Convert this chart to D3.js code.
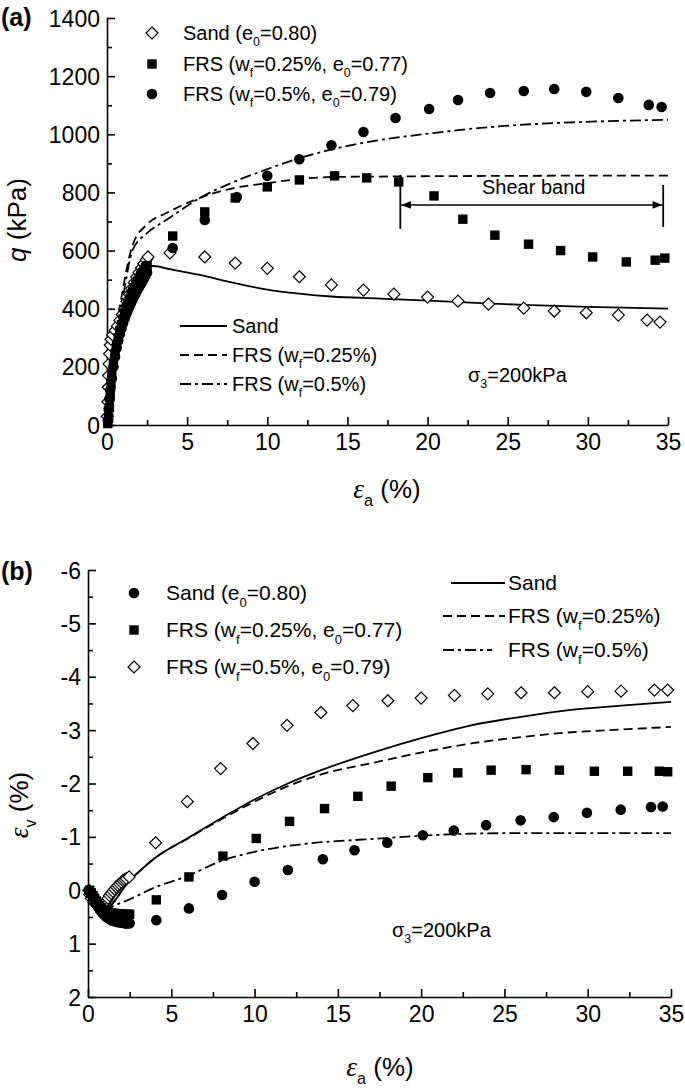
<!DOCTYPE html>
<html>
<head>
<meta charset="utf-8">
<script src="https://cdn.jsdelivr.net/npm/d3@7"></script>
<style>
  body { margin: 0; background: #fff; }
  svg { display: block; font-family: "Liberation Sans", Arial, sans-serif; }
</style>
</head>
<body>
<div id="chart"></div>
<script>
// ---- data ----
// (a) deviator stress q (kPa) vs axial strain (%)
const sandQ = [[0.02,30],[0.05,80],[0.08,130],[0.1,170],[0.13,210],[0.16,245],[0.2,275],[0.25,295],[0.35,310],[0.5,325],[0.65,340],[0.8,360],[0.95,380],[1.1,400],[1.25,425],[1.4,450],[1.55,470],[1.7,490],[1.85,510],[2.0,525],[2.15,540],[2.3,555],[2.45,568],[2.56,578],[3.93,592],[6.1,578],[8.0,557],[10.0,539],[12.0,510],[14.0,482],[16.0,464],[17.9,450],[20.0,440],[21.9,426],[23.8,416],[26.0,402],[27.9,392],[29.9,386],[31.9,378],[33.7,361],[34.5,354]]
const frs025Q = [[0.05,5],[0.1,25],[0.15,60],[0.2,100],[0.25,140],[0.3,170],[0.4,210],[0.5,245],[0.6,275],[0.7,300],[0.8,325],[0.9,345],[1.0,365],[1.1,385],[1.2,402],[1.3,418],[1.4,433],[1.5,447],[1.6,460],[1.7,472],[1.8,484],[1.9,495],[2.0,505],[2.1,515],[2.2,524],[2.3,533],[2.4,541],[2.5,548],[4.1,650],[6.1,733],[8.0,781],[10.0,819],[12.0,843],[14.2,857],[16.2,850],[18.2,836],[20.4,788],[22.2,708],[24.2,653],[26.3,622],[28.3,600],[30.3,578],[32.4,561],[34.2,567],[34.8,574]]
const frs05Q = [[0.05,15],[0.1,55],[0.15,90],[0.2,120],[0.3,160],[0.4,200],[0.5,235],[0.6,265],[0.7,290],[0.8,312],[0.9,332],[1.0,350],[1.1,366],[1.2,381],[1.3,395],[1.4,408],[1.5,420],[1.6,432],[1.7,443],[1.8,454],[1.9,464],[2.0,474],[2.1,484],[2.2,494],[2.3,504],[2.4,514],[2.5,525],[4.1,609],[6.1,705],[8.1,784],[10.0,857],[12.0,914],[14.0,962],[16.0,1008],[18.0,1056],[20.1,1087],[21.9,1118],[23.9,1142],[26.0,1149],[27.9,1156],[29.9,1146],[31.9,1125],[33.8,1101],[34.6,1094]]
const sandQLine = [[0,0],[0.3,150],[0.6,280],[1.0,390],[1.5,470],[2.0,520],[2.5,543],[2.9,547],[4,535],[5.8,516],[7.9,489],[10,466],[12,452],[14,442],[17,435],[20,428],[23,420],[26,413],[30,406],[35,400]]
const frs025QLine = [[0,0],[0.3,180],[0.6,330],[1.0,470],[1.6,619],[2.5,690],[3.7,729],[5.8,781],[7.9,815],[10,832],[12,846],[14,853],[18,855],[25,857],[35,858]]
const frs05QLine = [[0,0],[0.3,170],[0.6,310],[1.0,440],[1.6,602],[2.5,660],[3.7,705],[5.8,781],[7.9,836],[10,880],[12,918],[15,960],[17,980],[20,1002],[23.3,1022],[26,1033],[29.5,1042],[35,1050]]
const shearBand = [18.3, 34.7, 757]

// (b) volumetric strain (%) vs axial strain (%)
const sandV = [[0.05,0.0],[0.1,0.02],[0.2,0.08],[0.3,0.14],[0.4,0.2],[0.5,0.26],[0.6,0.31],[0.7,0.36],[0.8,0.4],[0.9,0.44],[1.0,0.47],[1.1,0.5],[1.2,0.52],[1.3,0.54],[1.4,0.56],[1.5,0.57],[1.6,0.58],[1.7,0.59],[1.8,0.6],[1.9,0.6],[2.0,0.61],[2.1,0.61],[2.2,0.62],[2.3,0.62],[2.4,0.62],[2.5,0.62],[4.1,0.56],[6.06,0.34],[8.05,0.09],[10.0,-0.16],[12.0,-0.38],[14.1,-0.58],[16.0,-0.75],[17.97,-0.89],[20.1,-1.03],[21.96,-1.12],[23.9,-1.22],[25.97,-1.31],[27.96,-1.37],[29.95,-1.45],[31.98,-1.51],[33.8,-1.56],[34.5,-1.57]]
const frs025V = [[0.1,0.0],[0.2,0.05],[0.3,0.1],[0.4,0.15],[0.5,0.2],[0.6,0.25],[0.7,0.29],[0.8,0.33],[0.9,0.36],[1.0,0.38],[1.2,0.4],[1.4,0.42],[1.6,0.43],[1.8,0.44],[2.0,0.44],[2.2,0.45],[2.4,0.45],[2.5,0.45],[4.1,0.18],[6.06,-0.25],[8.1,-0.64],[10.1,-0.97],[12.1,-1.29],[14.2,-1.53],[16.2,-1.76],[18.2,-1.95],[20.4,-2.11],[22.2,-2.2],[24.2,-2.25],[26.3,-2.26],[28.3,-2.25],[30.4,-2.23],[32.4,-2.23],[34.3,-2.23],[34.8,-2.22]]
const frs05V = [[0.05,0.0],[0.1,0.08],[0.2,0.15],[0.35,0.22],[0.5,0.27],[0.7,0.3],[0.85,0.28],[1.0,0.25],[1.1,0.2],[1.2,0.15],[1.3,0.1],[1.4,0.06],[1.5,0.02],[1.6,-0.02],[1.7,-0.06],[1.8,-0.09],[1.9,-0.12],[2.0,-0.15],[2.1,-0.18],[2.2,-0.2],[2.3,-0.22],[2.47,-0.25],[4.06,-0.89],[5.96,-1.66],[7.96,-2.28],[9.9,-2.75],[11.95,-3.09],[13.98,-3.33],[15.9,-3.46],[18.0,-3.55],[20.0,-3.6],[22.0,-3.65],[24.0,-3.68],[26.0,-3.7],[28.0,-3.7],[30.0,-3.72],[32.0,-3.73],[34.0,-3.75],[34.8,-3.75]]
const sandVLine = [[0,0],[0.5,0.18],[1.0,0.3],[1.3,0.3],[1.6,0.2],[2,0.02],[2.5,-0.18],[3,-0.33],[4,-0.6],[6,-0.98],[8,-1.35],[10,-1.7],[12,-2.0],[14,-2.25],[17,-2.57],[20,-2.85],[23,-3.09],[26,-3.25],[29,-3.38],[32,-3.46],[35,-3.53]]
const frs025VLine = [[0,0],[0.5,0.18],[1.0,0.3],[1.3,0.3],[1.6,0.2],[2,0.02],[2.5,-0.18],[3,-0.33],[4,-0.6],[6,-0.97],[8,-1.33],[10,-1.66],[12,-1.95],[14,-2.17],[17,-2.38],[20,-2.58],[23,-2.75],[26,-2.87],[29,-2.96],[32,-3.01],[35,-3.06]]
const frs05VLine = [[0,0],[0.5,0.18],[1.0,0.3],[1.3,0.33],[1.5,0.3],[2.5,0.17],[4,-0.05],[6,-0.27],[8,-0.55],[10,-0.72],[12,-0.83],[14,-0.9],[16,-0.94],[18,-0.98],[20,-1.02],[23,-1.06],[26,-1.07],[30,-1.07],[35,-1.07]]

const xTicks = [0, 5, 10, 15, 20, 25, 30, 35]
const xMinor = [2.5, 7.5, 12.5, 17.5, 22.5, 27.5, 32.5]
const qTicks = [0, 200, 400, 600, 800, 1000, 1200, 1400]
const qMinor = [100, 300, 500, 700, 900, 1100, 1300]
const vTicks = [-6, -5, -4, -3, -2, -1, 0, 1, 2]
const vMinor = [-5.5, -4.5, -3.5, -2.5, -1.5, -0.5, 0.5, 1.5]

const svg = d3.select('#chart').append('svg').attr('width', 685).attr('height', 1089)

// scales
const aX = d3.scaleLinear().domain([0, 35]).range([107, 668])
const aY = d3.scaleLinear().domain([0, 1400]).range([425, 18])
const bX = d3.scaleLinear().domain([0, 35]).range([88, 671])
const bY = d3.scaleLinear().domain([-6, 2]).range([570, 997])

// text with subscripts: parts = [[text, 'sub'|'it'|'eps'|'']]
function rich (sel, x, y, parts, size, anchor, rotate) {
  const t = sel.append('text').attr('font-size', size).attr('text-anchor', anchor || 'start')
  if (rotate) t.attr('transform', 'translate(' + x + ',' + y + ') rotate(-90)')
  else t.attr('x', x).attr('y', y)
  let shift = 0
  parts.forEach(function (p) {
    const s = t.append('tspan').text(p[0])
    const want = p[1] === 'sub' ? size * 0.32 : 0
    if (want !== shift) { s.attr('dy', want - shift); shift = want }
    if (p[1] === 'sub') s.attr('font-size', size * 0.62)
    if (p[1] === 'it') s.attr('font-style', 'italic')
    if (p[1] === 'eps') s.attr('font-style', 'italic').attr('font-family', '"Liberation Serif", serif').attr('font-size', size * 1.05)
  })
  return t
}

function axes (x, y, yMaj, yMin, fmt) {
  const g = svg.append('g')
  const y0 = d3.max(y.range())
  const x0 = x.range()[0]
  const bx = g.append('g').attr('transform', 'translate(0,' + y0 + ')')
    .call(d3.axisBottom(x).tickValues(xTicks).tickSizeInner(-8).tickSizeOuter(0).tickPadding(8).tickFormat(d3.format('d')))
  g.append('g').attr('transform', 'translate(0,' + y0 + ')')
    .call(d3.axisBottom(x).tickValues(xMinor).tickSizeInner(-5).tickSizeOuter(0).tickFormat(''))
    .select('.domain').remove()
  const ly = g.append('g').attr('transform', 'translate(' + x0 + ',0)')
    .call(d3.axisLeft(y).tickValues(yMaj).tickSizeInner(-8).tickSizeOuter(0).tickPadding(7).tickFormat(fmt))
  g.append('g').attr('transform', 'translate(' + x0 + ',0)')
    .call(d3.axisLeft(y).tickValues(yMin).tickSizeInner(-5).tickSizeOuter(0).tickFormat(''))
    .select('.domain').remove()
  g.selectAll('.domain, .tick line').attr('stroke', '#000').attr('stroke-width', 1.6)
  g.selectAll('.tick text').attr('font-size', 23).attr('font-family', '"Liberation Sans", Arial, sans-serif').attr('fill', '#000')
  bx.selectAll('.tick text').attr('dy', '0.72em')
  ly.selectAll('.tick text').attr('dy', '0.35em')
}

function curve (data, x, y, dash) {
  svg.append('path').datum(data)
    .attr('d', d3.line().x(d => x(d[0])).y(d => y(d[1])).curve(d3.curveMonotoneX))
    .attr('fill', 'none').attr('stroke', '#000').attr('stroke-width', 1.8)
    .attr('stroke-dasharray', dash)
}

function marks (data, x, y, kind) {
  const g = svg.append('g')
  const sel = g.selectAll('.m').data(data).enter()
  if (kind === 'circle') {
    sel.append('circle').attr('cx', d => x(d[0])).attr('cy', d => y(d[1])).attr('r', 5.3).attr('fill', '#000')
  } else if (kind === 'square') {
    sel.append('rect').attr('x', d => x(d[0]) - 4.7).attr('y', d => y(d[1]) - 4.7)
      .attr('width', 9.4).attr('height', 9.4).attr('fill', '#000')
  } else {
    sel.append('path').attr('d', 'M0,-6L6,0L0,6L-6,0Z')
      .attr('transform', d => 'translate(' + x(d[0]) + ',' + y(d[1]) + ')')
      .attr('fill', '#fff').attr('stroke', '#000').attr('stroke-width', 1.2)
  }
}

function legendMark (cx, cy, kind) {
  if (kind === 'circle') svg.append('circle').attr('cx', cx).attr('cy', cy).attr('r', 5.3).attr('fill', '#000')
  else if (kind === 'square') svg.append('rect').attr('x', cx - 4.7).attr('y', cy - 4.7).attr('width', 9.4).attr('height', 9.4).attr('fill', '#000')
  else svg.append('path').attr('d', 'M0,-6L6,0L0,6L-6,0Z').attr('transform', 'translate(' + cx + ',' + cy + ')')
    .attr('fill', '#fff').attr('stroke', '#000').attr('stroke-width', 1.2)
}

function legendLine (x1, x2, cy, dash) {
  svg.append('line').attr('x1', x1).attr('x2', x2).attr('y1', cy).attr('y2', cy)
    .attr('stroke', '#000').attr('stroke-width', 1.8).attr('stroke-dasharray', dash)
}

const DASH = '9,5'
const DASHDOT = '11,4,3,4'

// ---------- panel (a) ----------
axes(aX, aY, qTicks, qMinor, d3.format('d'))
curve(sandQLine, aX, aY, null)
curve(frs025QLine, aX, aY, DASH)
curve(frs05QLine, aX, aY, DASHDOT)
marks(sandQ, aX, aY, 'diamond')
marks(frs025Q, aX, aY, 'square')
marks(frs05Q, aX, aY, 'circle')

// shear band annotation
const sbY = aY(shearBand[2])
svg.append('defs').append('marker').attr('id', 'ah').attr('viewBox', '0 0 10 10')
  .attr('refX', 10).attr('refY', 5).attr('markerWidth', 8).attr('markerHeight', 6).attr('orient', 'auto-start-reverse')
  .append('path').attr('d', 'M0,1L10,5L0,9Z').attr('fill', '#000')
svg.append('line').attr('x1', aX(shearBand[0]) + 1).attr('x2', aX(shearBand[1]) - 1).attr('y1', sbY).attr('y2', sbY)
  .attr('stroke', '#000').attr('stroke-width', 1.6)
  .attr('marker-start', 'url(#ah)').attr('marker-end', 'url(#ah)')
svg.append('line').attr('x1', aX(shearBand[0])).attr('x2', aX(shearBand[0])).attr('y1', sbY - 30).attr('y2', sbY + 24).attr('stroke', '#000').attr('stroke-width', 1.8)
svg.append('line').attr('x1', aX(shearBand[1])).attr('x2', aX(shearBand[1])).attr('y1', sbY - 20).attr('y2', sbY + 22).attr('stroke', '#000').attr('stroke-width', 1.8)
svg.append('text').attr('x', (aX(shearBand[0]) + aX(shearBand[1])) / 2 + 2).attr('y', sbY - 11)
  .attr('text-anchor', 'middle').attr('font-size', 20).text('Shear band')

// legends (a)
legendMark(152, 33, 'diamond')
legendMark(152, 64, 'square')
legendMark(152, 94, 'circle')
rich(svg, 183, 40, [['Sand (e', ''], ['0', 'sub'], ['=0.80)', '']], 20)
rich(svg, 183, 71, [['FRS (w', ''], ['f', 'sub'], ['=0.25%, e', ''], ['0', 'sub'], ['=0.77)', '']], 20)
rich(svg, 183, 101, [['FRS (w', ''], ['f', 'sub'], ['=0.5%, e', ''], ['0', 'sub'], ['=0.79)', '']], 20)
legendLine(180, 227, 326, null)
legendLine(180, 227, 355, DASH)
legendLine(180, 227, 384, DASHDOT)
rich(svg, 232, 333, [['Sand', '']], 20)
rich(svg, 232, 362, [['FRS (w', ''], ['f', 'sub'], ['=0.25%)', '']], 20)
rich(svg, 232, 391, [['FRS (w', ''], ['f', 'sub'], ['=0.5%)', '']], 20)
rich(svg, 468, 382, [['σ', ''], ['3', 'sub'], ['=200kPa', '']], 20)

// axis titles (a)
svg.append('text').attr('x', 1).attr('y', 26).attr('font-size', 25).attr('font-weight', 'bold').text('(a)')
rich(svg, 26, 220, [['q', 'it'], [' (kPa)', '']], 26, 'middle', true)
rich(svg, 387, 498, [['ε', 'eps'], ['a', 'sub'], [' (%)', '']], 26, 'middle')

// ---------- panel (b) ----------
axes(bX, bY, vTicks, vMinor, d => String(d))
curve(sandVLine, bX, bY, null)
curve(frs025VLine, bX, bY, DASH)
curve(frs05VLine, bX, bY, DASHDOT)
marks(frs05V, bX, bY, 'diamond')
marks(frs025V, bX, bY, 'square')
marks(sandV, bX, bY, 'circle')

legendMark(134, 593, 'circle')
legendMark(134, 630, 'square')
legendMark(134, 667, 'diamond')
rich(svg, 166, 600, [['Sand (e', ''], ['0', 'sub'], ['=0.80)', '']], 21)
rich(svg, 166, 637, [['FRS (w', ''], ['f', 'sub'], ['=0.25%, e', ''], ['0', 'sub'], ['=0.77)', '']], 21)
rich(svg, 166, 674, [['FRS (w', ''], ['f', 'sub'], ['=0.5%, e', ''], ['0', 'sub'], ['=0.79)', '']], 21)
legendLine(451, 505, 583, null)
legendLine(443, 505, 616, DASH)
legendLine(443, 492, 650, DASHDOT)
rich(svg, 508, 590, [['Sand', '']], 21)
rich(svg, 508, 623, [['FRS (w', ''], ['f', 'sub'], ['=0.25%)', '']], 21)
rich(svg, 508, 657, [['FRS (w', ''], ['f', 'sub'], ['=0.5%)', '']], 21)
rich(svg, 392, 937, [['σ', ''], ['3', 'sub'], ['=200kPa', '']], 20)

svg.append('text').attr('x', 1).attr('y', 580).attr('font-size', 25).attr('font-weight', 'bold').text('(b)')
rich(svg, 28, 805, [['ε', 'eps'], ['v', 'sub'], [' (%)', '']], 26, 'middle', true)
rich(svg, 380, 1076, [['ε', 'eps'], ['a', 'sub'], [' (%)', '']], 26, 'middle')
</script>
</body>
</html>
